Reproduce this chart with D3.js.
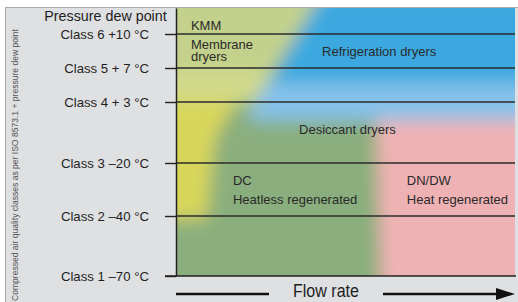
<!DOCTYPE html>
<html>
<head>
<meta charset="utf-8">
<script src="https://cdn.jsdelivr.net/npm/d3@7"></script>
<style>
  body { margin: 0; background: #fff; }
  svg { display: block; font-family: "Liberation Sans", Arial, sans-serif; }
</style>
</head>
<body>
<svg width="518" height="302"></svg>
<script>
// dew point classes (ISO 8573.1), bottom to top
var classIds = [1, 2, 3, 4, 5, 6];
var classLabels = ['Class 1 \u201370 \u00b0C', 'Class 2 \u201340 \u00b0C', 'Class 3 \u201320 \u00b0C',
                   'Class 4 + 3 \u00b0C', 'Class 5 + 7 \u00b0C', 'Class 6 +10 \u00b0C'];

// dryer type labels, anchored in (flow rate %, class) units
var dryerLines = [['KMM'], ['Membrane', 'dryers'], ['Refrigeration dryers'], ['Desiccant dryers'],
                  ['DC', 'Heatless regenerated'], ['DN/DW', 'Heat regenerated']];
var dryerFlow  = [4.4, 4.4, 43.1, 36.3, 16.8, 68.1];
var dryerClass = [6.12, 5.55, 5.34, 3.48, 2.58, 2.58];

// colour zones of the application map, polygons in (flow %, class)
var zoneNames = ['desiccantDC', 'desiccantDN', 'refrigeration', 'refrigerationLow', 'membrane', 'membraneLow', 'heatlessSmall'];
var zoneShapes = [
  [[-10, 0], [110, 0], [110, 8], [-10, 8]],
  [[61, 0], [110, 0], [110, 3.8], [59, 3.8]],
  [[43.4, 7.2], [110, 7.2], [110, 3.7], [21, 3.7]],
  [[26.3, 4.55], [110, 4.55], [110, 3.7], [21, 3.7]],
  [[-10, 7.2], [43.4, 7.2], [22.7, 4], [-10, 4]],
  [[-10, 4.9], [28.5, 4.9], [22.7, 4], [-10, 4]],
  [[-10, 4.05], [18, 4.05], [11.5, 3.4], [9, 1.95], [-10, 1.95]]
];

var zoneColor = {
  desiccantDC: '#8aae7d', desiccantDN: '#efb2b4', refrigeration: '#3aa9e0',
  refrigerationLow: '#86c2ea', membrane: '#c3d18c', membraneLow: '#d2da8a', heatlessSmall: '#d8d65a'
};

var svg = d3.select('svg');
var svgWidth = +svg.attr('width');
var svgHeight = +svg.attr('height');

var plot = {l: 176, r: 515, t: 8, b: 276};

// panel background
svg.append('rect')
  .attr('x', 5.5).attr('y', 7.5)
  .attr('width', svgWidth - 5).attr('height', svgHeight - 7)
  .attr('fill', '#dfe0e2')
  .attr('stroke', '#a9a9a9');

var xScale = d3.scaleLinear().domain([0, 100]).range([plot.l, plot.r]);
// class spacing in the map is not even
var yScale = d3.scaleLinear()
  .domain([1, 2, 3, 4, 5, 6, 6.74])
  .range([276, 216, 163, 102, 68, 34, plot.t]);

// coloured zones, blurred and clipped to the plot
var defs = svg.append('defs');
defs.append('clipPath').attr('id', 'plotClip')
  .append('rect')
  .attr('x', plot.l).attr('y', plot.t)
  .attr('width', plot.r - plot.l).attr('height', plot.b - plot.t);
defs.append('filter').attr('id', 'soft')
  .attr('filterUnits', 'userSpaceOnUse')
  .attr('x', 100).attr('y', -60).attr('width', 500).attr('height', 400)
  .append('feGaussianBlur').attr('stdDeviation', 8.5);

var line = d3.line()
  .x(function(d) { return xScale(d[0]); })
  .y(function(d) { return yScale(d[1]); });

svg.append('g')
  .attr('clip-path', 'url(#plotClip)')
  .append('g')
  .attr('filter', 'url(#soft)')
  .selectAll('path')
  .data(zoneShapes)
  .join('path')
  .attr('d', function(d) { return line(d) + 'Z'; })
  .attr('fill', function(d, i) { return zoneColor[zoneNames[i]]; });

// grid lines for each class
svg.append('g')
  .selectAll('line')
  .data(classIds.slice(1))
  .join('line')
  .attr('x1', plot.l).attr('x2', plot.r)
  .attr('y1', function(d) { return yScale(d); })
  .attr('y2', function(d) { return yScale(d); })
  .attr('stroke', '#2b2b2b')
  .attr('stroke-width', 1.4);

// class axis
var yAxisG = svg.append('g')
  .attr('transform', 'translate(' + plot.l + ',0)')
  .call(d3.axisLeft(yScale)
    .tickValues(classIds)
    .tickFormat(function(d, i) { return classLabels[i]; })
    .tickSize(11)
    .tickSizeOuter(0)
    .tickPadding(16));
yAxisG.select('.domain').attr('stroke', '#222').attr('stroke-width', 1.5);
yAxisG.selectAll('.tick line').attr('stroke', '#222').attr('stroke-width', 1.4);
yAxisG.selectAll('.tick text')
  .attr('font-family', null)
  .attr('font-size', 13.2)
  .attr('fill', '#1e1e1e');

// bottom line of the plot
svg.append('line')
  .attr('x1', plot.l - 11).attr('x2', plot.r + 1)
  .attr('y1', plot.b).attr('y2', plot.b)
  .attr('stroke', '#222').attr('stroke-width', 1.5);

svg.append('text')
  .attr('x', 105.5).attr('y', 21)
  .attr('text-anchor', 'middle')
  .attr('font-size', 14.3)
  .attr('fill', '#1e1e1e')
  .text('Pressure dew point');

svg.append('text')
  .attr('transform', 'translate(17.5,165) rotate(-90)')
  .attr('text-anchor', 'middle')
  .attr('font-size', 9.5)
  .attr('fill', '#555')
  .attr('textLength', 272)
  .attr('lengthAdjust', 'spacingAndGlyphs')
  .text('Compressed air quality classes as per ISO 8573.1 + pressure dew point');

// dryer labels
var labels = svg.append('g')
  .selectAll('text')
  .data(dryerLines)
  .join('text')
  .attr('x', function(d, i) { return xScale(dryerFlow[i]); })
  .attr('y', function(d, i) { return yScale(dryerClass[i]); })
  .attr('font-size', 13)
  .attr('fill', '#2a2a2a');
labels.selectAll('tspan')
  .data(function(d) { return d; })
  .join('tspan')
  .attr('x', function() { return d3.select(this.parentNode).attr('x'); })
  .attr('dy', function(d, i) { return i === 0 ? 0 : (d === 'dryers' ? 11.5 : 19); })
  .text(function(d) { return d; });

// flow rate arrow
var arrowY = 294;
svg.append('line')
  .attr('x1', plot.l).attr('x2', 269)
  .attr('y1', arrowY).attr('y2', arrowY)
  .attr('stroke', '#111').attr('stroke-width', 2.5);
svg.append('line')
  .attr('x1', 383).attr('x2', 500)
  .attr('y1', arrowY).attr('y2', arrowY)
  .attr('stroke', '#111').attr('stroke-width', 2.5);
svg.append('path')
  .attr('d', 'M496,' + (arrowY - 6) + 'L515,' + arrowY + 'L496,' + (arrowY + 6) + 'Z')
  .attr('fill', '#111');
svg.append('text')
  .attr('x', 326).attr('y', 297)
  .attr('text-anchor', 'middle')
  .attr('font-size', 18)
  .attr('textLength', 66)
  .attr('lengthAdjust', 'spacingAndGlyphs')
  .attr('fill', '#1e1e1e')
  .text('Flow rate');
</script>
</body>
</html>
